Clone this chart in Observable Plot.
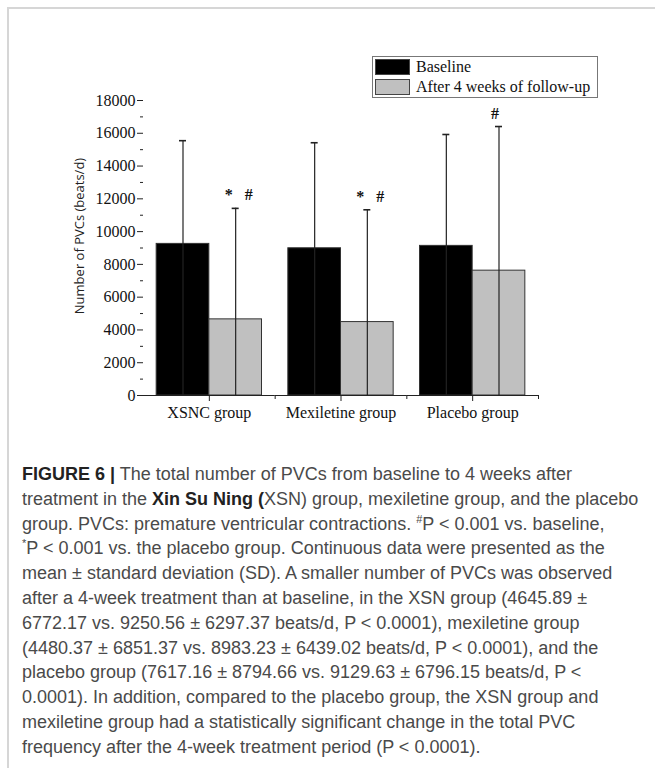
<!DOCTYPE html>
<html>
<head>
<meta charset="utf-8">
<script src="https://cdn.jsdelivr.net/npm/d3@7"></script>
<script src="https://cdn.jsdelivr.net/npm/@observablehq/plot@0.6"></script>
<style>
  body { margin: 0; background: #fff; }
  #wrap { position: relative; width: 655px; height: 768px; overflow: hidden; background: #fff; }
  #frame { position: absolute; left: 7px; top: 7px; right: -4px; bottom: -4px;
           border-top: 2px solid #d6d6d6; border-left: 2px solid #d6d6d6; }
  #chart { position: absolute; left: 0; top: 0; }
  #legend { position: absolute; left: 372px; top: 56px; width: 224px; height: 40px;
            border: 1px solid #777; background: #fff;
            font-family: "Liberation Serif", serif; font-size: 16px; color: #111; }
  #legend .row { position: absolute; left: 2px; height: 18px; display: flex; align-items: center; white-space: nowrap; }
  #legend .sw { width: 35px; height: 16px; border: 1px solid #444; box-sizing: border-box; margin-right: 6px; }
  #caption { position: absolute; left: 22px; top: 462px;
             font-family: "Liberation Sans", Arial, sans-serif; font-size: 18px; line-height: 24.8px;
             color: #4a4a4a; }
  #caption div { white-space: nowrap; }
  #caption b { color: #222; }
  #caption sup { font-size: 11px; line-height: 0; vertical-align: 7px; }
</style>
</head>
<body>
<div id="wrap">
  <div id="frame"></div>
  <div id="chart"></div>
  <div id="legend"></div>
  <div id="caption"></div>
</div>
<script>
// ---- data ----
const groups = ["XSNC group", "Mexiletine group", "Placebo group"];
const series = ["Baseline", "After 4 weeks of follow-up"];
const baselineMean = [9250.56, 8983.23, 9129.63];
const baselineSD = [6297.37, 6439.02, 6796.15];
const afterMean = [4645.89, 4480.37, 7617.16];
const afterSD = [6772.17, 6851.37, 8794.66];
const afterMarks = ["*\u00a0\u00a0\u00a0#", "*\u00a0\u00a0\u00a0#", "#"];
const yMajorTicks = [0, 2000, 4000, 6000, 8000, 10000, 12000, 14000, 16000, 18000];
const yMinorTicks = [1000, 3000, 5000, 7000, 9000, 11000, 13000, 15000, 17000];
const yTitle = "Number of PVCs (beats/d)";
const barColors = ["#000000", "#c0c0c0"];

// ---- table built from the arrays ----
const table = groups.flatMap((g, i) => [
  {group: g, series: series[0], mean: baselineMean[i], sd: baselineSD[i], mark: ""},
  {group: g, series: series[1], mean: afterMean[i], sd: afterSD[i], mark: afterMarks[i]}
]);

// ---- layout ----
const W = 655, H = 440, ML = 143, MR = 117, MT = 100, MB = 45;
const facetW = (W - ML - MR) / groups.length;
const pOuter = 0.25;
const step = facetW / (series.length + 2 * pOuter);
const capW = 7;
const capInset = (step - capW) / 2;
const serif = "'Liberation Serif', 'Times New Roman', serif";

const chart = Plot.plot({
  width: W, height: H,
  marginLeft: ML, marginRight: MR, marginTop: MT, marginBottom: MB,
  style: {background: "none", fontFamily: serif, fontSize: "16px", color: "#111"},
  fx: {domain: groups, padding: 0, round: false, label: null},
  x: {domain: series, paddingInner: 0, paddingOuter: pOuter, round: false, axis: null},
  y: {domain: [0, 18000], label: null},
  color: {domain: series, range: barColors},
  marks: [
    Plot.barY(table, {fx: "group", x: "series", y: "mean", fill: "series", stroke: "#333", strokeWidth: 1}),
    Plot.ruleX(table, {fx: "group", x: "series", y1: 0, y2: d => d.mean + d.sd, stroke: "#222", strokeWidth: 1.2}),
    Plot.tickY(table, {fx: "group", x: "series", y: d => d.mean + d.sd, stroke: "#222", strokeWidth: 1.6,
                       insetLeft: capInset, insetRight: capInset}),
    Plot.text(table.filter(d => d.mark.length > 1), {fx: "group", x: "series", y: d => d.mean + d.sd, text: "mark",
                       dy: -13, dx: 3, fontSize: 16, fontFamily: serif, fontWeight: "bold", fill: "#111"}),
    Plot.text(table.filter(d => d.mark.length === 1), {fx: "group", x: "series", y: d => d.mean + d.sd, text: "mark",
                       dy: -13, dx: -4, fontSize: 16, fontFamily: serif, fontWeight: "bold", fill: "#111"}),
    Plot.ruleY([0], {stroke: "#222", strokeWidth: 1.2}),
    Plot.axisY({ticks: yMajorTicks, tickSize: 6, tickPadding: 2, tickFormat: d3.format("d"), label: null,
                line: true, fontSize: 16, fontFamily: serif, stroke: "#222"}),
    Plot.axisY({ticks: yMinorTicks, tickSize: 3, tickFormat: () => "", label: null, stroke: "#222"}),
    Plot.axisFx({anchor: "bottom", tickSize: 6, tickPadding: 5, label: null, fontSize: 16, fontFamily: serif, stroke: "#222"}),
    Plot.axisFx({anchor: "bottom", tickSize: 4, tickFormat: () => "", label: null, dx: facetW / 2, stroke: "#222"}),
    Plot.text([yTitle], {fx: () => groups[0], text: d => d, frameAnchor: "left", textAnchor: "middle",
                         rotate: -90, dx: -64, dy: -12,
                         fontFamily: "'Open Sans', sans-serif", fontSize: 13, fill: "#222"})
  ]
});
document.getElementById("chart").appendChild(chart);

// ---- legend ----
const legend = document.getElementById("legend");
series.forEach((s, i) => {
  const row = document.createElement("div");
  row.className = "row";
  row.style.top = (1 + i * 20) + "px";
  const sw = document.createElement("div");
  sw.className = "sw";
  sw.style.background = barColors[i];
  const tx = document.createElement("span");
  tx.textContent = s;
  row.appendChild(sw); row.appendChild(tx);
  legend.appendChild(row);
});

// ---- caption ----
const captionLines = [
  '<b>FIGURE 6 |</b> The total number of PVCs from baseline to 4 weeks after',
  'treatment in the <b>Xin Su Ning (</b>XSN) group, mexiletine group, and the placebo',
  'group. PVCs: premature ventricular contractions. <sup>#</sup>P &lt; 0.001 vs. baseline,',
  '<sup>*</sup>P &lt; 0.001 vs. the placebo group. Continuous data were presented as the',
  'mean ± standard deviation (SD). A smaller number of PVCs was observed',
  'after a 4-week treatment than at baseline, in the XSN group (4645.89 ±',
  '6772.17 vs. 9250.56 ± 6297.37 beats/d, P &lt; 0.0001), mexiletine group',
  '(4480.37 ± 6851.37 vs. 8983.23 ± 6439.02 beats/d, P &lt; 0.0001), and the',
  'placebo group (7617.16 ± 8794.66 vs. 9129.63 ± 6796.15 beats/d, P &lt;',
  '0.0001). In addition, compared to the placebo group, the XSN group and',
  'mexiletine group had a statistically significant change in the total PVC',
  'frequency after the 4-week treatment period (P &lt; 0.0001).'
];
document.getElementById("caption").innerHTML = captionLines.map(l => `<div>${l}</div>`).join("");
</script>
</body>
</html>
